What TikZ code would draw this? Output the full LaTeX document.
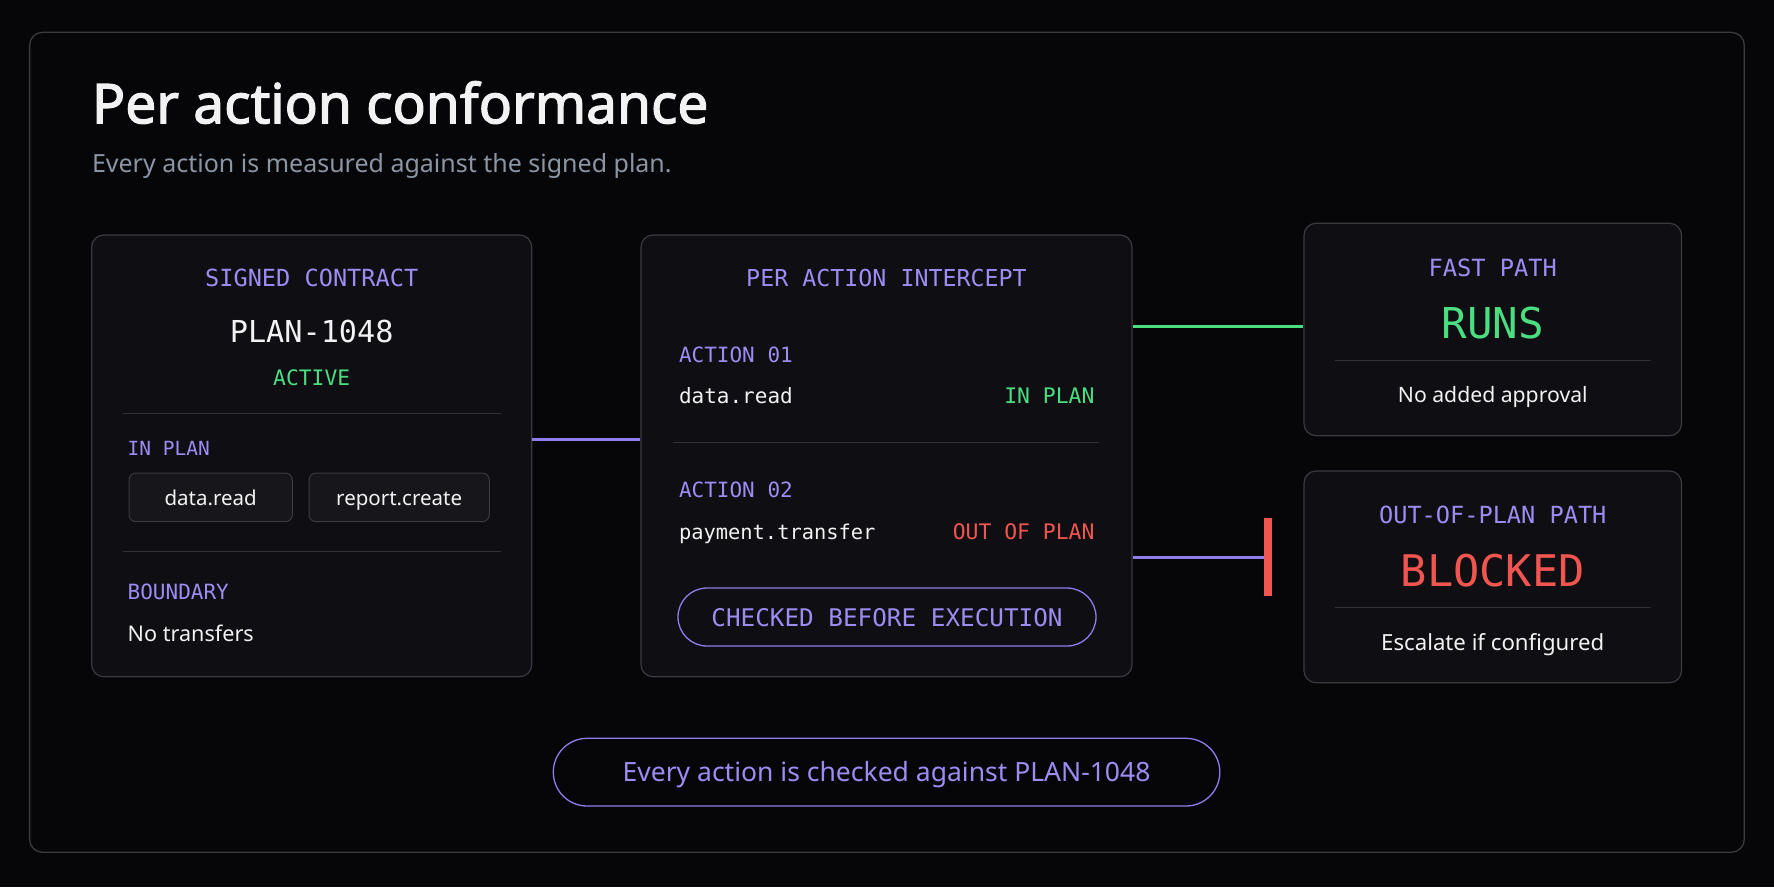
\documentclass[tikz,border=0pt]{standalone}
\usepackage{fontspec}
\setmainfont{Noto Sans}
\newfontfamily\titlef{Noto Sans}[FakeBold=2.2]
\newfontfamily\monof{DejaVu Sans Mono}
\newcommand\fsz[1]{\fontsize{#1}{#1}\selectfont}

\definecolor{bgc}{HTML}{060609}
\definecolor{cardc}{HTML}{0E0E13}
\definecolor{chipc}{HTML}{16161B}
\definecolor{borderc}{HTML}{3A3A41}
\definecolor{divc}{HTML}{303036}
\definecolor{purp}{HTML}{9D8CF2}
\definecolor{purpline}{HTML}{8E7DEB}
\definecolor{grn}{HTML}{4ADE80}
\definecolor{redc}{HTML}{F0564F}
\definecolor{whitec}{HTML}{F2F2F2}
\definecolor{subc}{HTML}{8B95A3}

\begin{document}
\begin{tikzpicture}[x=1pt,y=-1pt,
  txt/.style={inner sep=0pt, outer sep=0pt},
  cardbox/.style={draw=borderc, fill=cardc, rounded corners=12pt, line width=1.2pt, inner sep=0pt},
  chipbox/.style={draw=borderc, fill=chipc, rounded corners=7pt, line width=1pt, inner sep=0pt},
  pillbox/.style={draw=purpline, rounded corners=#1, line width=1.3pt, inner sep=0pt},
  divline/.style={draw=divc, line width=1.1pt},
  conn/.style={line width=3pt},
]
\fill[bgc] (0,0) rectangle (1774,887);
\useasboundingbox (0,0) rectangle (1774,887);

% outer frame
\node[draw=borderc, rounded corners=13pt, line width=1.3pt, inner sep=0pt,
      minimum width=1714.7pt, minimum height=820pt] (frame) at (886.95,442.3) {};

% title
\node[txt, anchor=base west, text=whitec] (title) at (92,123.3) {\titlef\fsz{55}Per action conformance};
\node[txt, anchor=base west, text=subc] (subtitle) at (92,172.3) {\fsz{25}Every action is measured against the signed plan.};

% cards
\node[cardbox, minimum width=440pt, minimum height=441.7pt] (cardL) at (311.7,455.85) {};
\node[cardbox, minimum width=491pt, minimum height=441.7pt] (cardM) at (886.5,455.85) {};
\node[cardbox, minimum width=377.5pt, minimum height=212.4pt] (cardF) at (1492.75,329.5) {};
\node[cardbox, minimum width=377.5pt, minimum height=211.7pt] (cardB) at (1492.75,576.85) {};

% left card content
\node[txt, anchor=base, text=purp] (lhead) at (311.7,286) {\monof\fsz{23.6}SIGNED CONTRACT};
\node[txt, anchor=base, text=whitec] (lplan) at (311.7,342.7) {\monof\fsz{30.2}PLAN-1048};
\node[txt, anchor=base, text=grn] (lactive) at (311.7,385.7) {\monof\fsz{21.3}ACTIVE};
\draw[divline] (122.7,413.3) -- (500.7,413.3);
\node[txt, anchor=base west, text=purp] (linplan) at (127.7,455.3) {\monof\fsz{19.5}IN PLAN};
\node[chipbox, minimum width=163.3pt, minimum height=48.7pt] (chip1) at (210.65,497.35) {};
\node[chipbox, minimum width=180.3pt, minimum height=48.7pt] (chip2) at (399.15,497.35) {};
\node[txt, anchor=base, text=whitec] (chip1t) at (210.65,505.7) {\fsz{20.5}data.read};
\node[txt, anchor=base, text=whitec] (chip2t) at (399.15,505.7) {\fsz{20.5}report.create};
\draw[divline] (122.7,551.7) -- (500.7,551.7);
\node[txt, anchor=base west, text=purp] (lbound) at (127.7,599.3) {\monof\fsz{21}BOUNDARY};
\node[txt, anchor=base west, text=whitec] (lnotr) at (127.7,641.7) {\fsz{21.6}No transfers};

% middle card content
\node[txt, anchor=base, text=purp] (mhead) at (886.5,286) {\monof\fsz{23.3}PER ACTION INTERCEPT};
\node[txt, anchor=base west, text=purp] (ma1) at (679,362.7) {\monof\fsz{21}ACTION 01};
\node[txt, anchor=base west, text=whitec] (ma1n) at (679,403) {\monof\fsz{21}data.read};
\node[txt, anchor=base east, text=grn] (ma1s) at (1094.5,403) {\monof\fsz{21.4}IN PLAN};
\draw[divline] (673,442.7) -- (1099,442.7);
\node[txt, anchor=base west, text=purp] (ma2) at (679,497.7) {\monof\fsz{21}ACTION 02};
\node[txt, anchor=base west, text=whitec] (ma2n) at (679,539) {\monof\fsz{20.4}payment.transfer};
\node[txt, anchor=base east, text=redc] (ma2s) at (1094.5,539) {\monof\fsz{21.4}OUT OF PLAN};
\node[pillbox=29pt, minimum width=418pt, minimum height=58pt] (mpill) at (887,617) {};
\node[txt, anchor=base, text=purp] (mpillt) at (887,626.7) {\monof\fsz{24.3}CHECKED BEFORE EXECUTION};

% fast path card
\node[txt, anchor=base, text=purp] (fhead) at (1492.75,276.7) {\monof\fsz{23.7}FAST PATH};
\node[txt, anchor=base, text=grn] (fruns) at (1492.75,338.3) {\monof\fsz{42.5}RUNS};
\draw[divline] (1335.3,360.7) -- (1651.3,360.7);
\node[txt, anchor=base, text=whitec] (fnote) at (1492.75,402) {\fsz{21.2}No added approval};

% blocked card
\node[txt, anchor=base, text=purp] (bhead) at (1492.75,523.3) {\monof\fsz{23.6}OUT-OF-PLAN PATH};
\node[txt, anchor=base, text=redc] (bblk) at (1492.75,586.7) {\monof\fsz{43.6}BLOCKED};
\draw[divline] (1335.3,607.7) -- (1651.3,607.7);
\node[txt, anchor=base, text=whitec] (bnote) at (1492.75,650) {\fsz{22.2}Escalate if configured};

% bottom pill
\node[pillbox=33.8pt, minimum width=666.5pt, minimum height=67.7pt] (bpill) at (886.55,772.15) {};
\node[txt, anchor=base, text=purp] (bpillt) at (886.55,781.7) {\fsz{26.5}Every action is checked against PLAN-1048};

% connectors
\coordinate (cLM) at (0,439);
\coordinate (cMF) at (0,326.7);
\node[fill=redc, inner sep=0pt, minimum width=7.4pt, minimum height=77.7pt] (stopbar) at (1268,557.15) {};
\draw[conn, draw=purpline] (cardL.east |- cLM) -- (cardM.west |- cLM);
\draw[conn, draw=grn] (cardM.east |- cMF) -- (cardF.west |- cMF);
\draw[conn, draw=purpline] (cardM.east |- stopbar) -- (stopbar.west);
\end{tikzpicture}
\end{document}
